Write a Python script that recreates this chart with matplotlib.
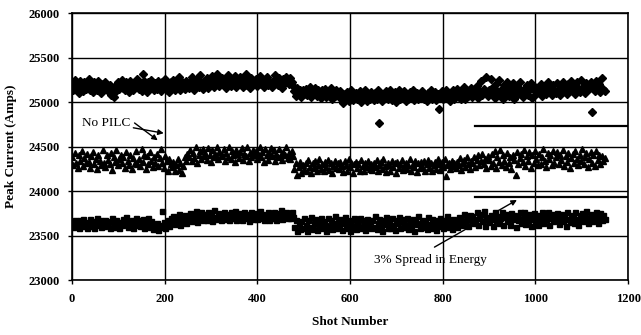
import matplotlib
matplotlib.use("Agg")
import matplotlib.pyplot as plt

shots = list(range(0, 1150, 3))

no_pilc_upper = [
    25210,25130,25250,25160,25200,25100,25240,25170,25120,25230,25150,25190,
    25260,25140,25180,25110,25220,25170,25130,25240,25160,25100,25200,25150,
    25230,25170,25120,25190,25080,25140,25060,25110,25190,25230,25150,25200,
    25250,25160,25130,25220,25180,25110,25240,25190,25140,25210,25170,25260,
    25150,25200,25120,25320,25240,25170,25110,25220,25160,25250,25190,25130,
    25210,25150,25240,25180,25120,25230,25170,25260,25140,25200,25110,25220,
    25180,25250,25140,25210,25170,25280,25130,25220,25190,25150,25240,25200,
    25160,25230,25280,25190,25140,25250,25210,25170,25300,25220,25150,25240,
    25190,25270,25160,25230,25200,25290,25170,25250,25320,25210,25180,25240,
    25270,25190,25250,25160,25300,25220,25180,25260,25210,25290,25170,25240,
    25200,25280,25230,25170,25250,25310,25190,25240,25160,25270,25220,25200,
    25260,25180,25230,25290,25200,25250,25170,25220,25280,25190,25240,25210,
    25170,25250,25300,25220,25190,25270,25230,25160,25260,25210,25280,25240,
    25200,25270,25230,25180,25120,25070,25160,25100,25140,25060,25130,25090,
    25150,25080,25120,25170,25060,25130,25100,25160,25070,25140,25110,25050,
    25130,25080,25150,25060,25120,25090,25160,25040,25110,25070,25140,25100,
    25060,25120,25030,24990,25090,25040,25110,25010,25070,25130,25020,25080,
    25100,25030,25070,25120,25000,25080,25050,25140,25010,25090,25040,25110,
    25060,25020,25100,25040,25130,24770,25070,25010,25090,25050,25120,25030,
    25080,25140,25020,25060,25110,25000,25070,25130,25040,25090,25050,25120,
    25010,25080,25040,25110,25060,25130,25020,25070,25100,25030,25090,25050,
    25120,25040,25080,25010,25100,25060,25140,25030,25070,25110,25020,25090,
    24920,25060,25120,25030,25080,25140,25050,25100,25010,25070,25130,25040,
    25090,25150,25060,25110,25030,25080,25170,25040,25120,25070,25100,25160,
    25060,25130,25090,25180,25050,25120,25240,25080,25150,25100,25280,25070,
    25140,25260,25090,25170,25050,25200,25120,25250,25080,25150,25030,25190,
    25110,25230,25070,25160,25100,25210,25040,25140,25180,25090,25220,25120,
    25060,25150,25100,25190,25080,25140,25210,25050,25130,25170,25090,25160,
    25110,25200,25070,25150,25180,25090,25220,25130,25160,25080,25190,25140,
    25100,25210,25150,25080,25180,25230,25120,25160,25090,25200,25140,25240,
    25130,25190,25090,25220,25160,25110,25250,25140,25180,25100,25210,25170,
    25150,25220,24890,25180,25120,25240,25160,25200,25110,25270,25150,25120,
]

no_pilc_lower = [
    24380,24290,24430,24320,24260,24400,24340,24450,24280,24370,24310,24420,
    24330,24260,24390,24440,24300,24360,24250,24410,24340,24290,24460,24320,
    24270,24400,24350,24300,24430,24240,24380,24330,24460,24290,24360,24410,
    24310,24380,24260,24440,24340,24290,24400,24250,24370,24320,24450,24300,
    24360,24280,24470,24330,24410,24250,24390,24300,24440,24340,24270,24380,
    24320,24420,24280,24370,24470,24310,24260,24390,24340,24230,24360,24300,
    24270,24330,24220,24290,24360,24240,24310,24200,24280,24380,24340,24420,
    24380,24460,24340,24430,24370,24490,24320,24410,24450,24360,24470,24390,
    24430,24350,24480,24400,24330,24460,24380,24420,24500,24360,24440,24390,
    24410,24470,24340,24430,24380,24490,24360,24450,24400,24330,24460,24420,
    24370,24440,24480,24350,24420,24390,24500,24340,24430,24380,24460,24410,
    24450,24360,24420,24490,24380,24440,24330,24470,24400,24350,24430,24480,
    24390,24460,24340,24420,24380,24470,24410,24350,24440,24400,24490,24370,
    24430,24360,24450,24390,24250,24310,24180,24270,24330,24200,24290,24240,
    24310,24230,24350,24270,24200,24320,24260,24340,24220,24290,24360,24250,
    24300,24220,24330,24270,24350,24240,24310,24200,24280,24340,24260,24320,
    24250,24330,24280,24210,24340,24290,24230,24360,24270,24310,24200,24300,
    24330,24260,24300,24230,24350,24280,24220,24320,24270,24340,24250,24300,
    24240,24310,24270,24350,24220,24290,24330,24250,24360,24280,24210,24320,
    24290,24230,24340,24270,24310,24200,24330,24260,24300,24350,24240,24280,
    24320,24250,24290,24360,24230,24300,24270,24340,24210,24310,24260,24330,
    24270,24340,24220,24300,24350,24260,24310,24230,24290,24330,24250,24360,
    24300,24240,24330,24270,24360,24170,24290,24320,24250,24340,24280,24310,
    24260,24330,24290,24370,24240,24310,24350,24270,24380,24300,24250,24340,
    24310,24380,24270,24350,24400,24290,24340,24420,24300,24360,24260,24390,
    24350,24280,24420,24310,24450,24260,24380,24330,24460,24290,24400,24340,
    24270,24430,24320,24380,24250,24410,24350,24180,24440,24300,24370,24420,
    24330,24460,24280,24390,24340,24440,24260,24400,24310,24450,24360,24290,
    24420,24300,24380,24470,24340,24270,24430,24360,24400,24290,24450,24320,
    24380,24440,24300,24410,24350,24460,24280,24390,24330,24430,24260,24370,
    24420,24310,24450,24360,24290,24400,24340,24470,24300,24380,24430,24270,
    24360,24440,24320,24400,24280,24450,24350,24410,24300,24390,24340,24370,
]

spread_energy = [
    23660,23600,23680,23620,23650,23590,23670,23630,23690,23610,23650,23580,
    23640,23690,23610,23660,23580,23630,23700,23620,23670,23600,23650,23610,
    23680,23620,23650,23590,23660,23700,23630,23600,23670,23640,23580,23650,
    23620,23690,23640,23710,23600,23660,23630,23680,23590,23650,23700,23620,
    23670,23610,23640,23690,23580,23650,23620,23700,23600,23660,23570,23630,
    23590,23640,23560,23620,23600,23780,23650,23580,23630,23680,23610,23700,
    23650,23720,23630,23690,23660,23740,23620,23700,23670,23730,23640,23710,
    23680,23750,23660,23720,23690,23780,23650,23730,23700,23760,23670,23720,
    23740,23680,23770,23700,23730,23660,23790,23710,23690,23750,23720,23680,
    23730,23770,23690,23740,23710,23680,23760,23720,23700,23780,23670,23740,
    23710,23750,23680,23730,23770,23700,23740,23660,23720,23760,23690,23730,
    23750,23690,23720,23780,23700,23740,23670,23730,23710,23760,23680,23720,
    23700,23760,23730,23680,23750,23710,23790,23690,23740,23720,23770,23700,
    23740,23700,23760,23710,23600,23680,23550,23640,23570,23660,23590,23700,
    23620,23550,23680,23600,23710,23570,23640,23690,23560,23650,23610,23700,
    23580,23660,23620,23550,23700,23610,23670,23570,23640,23720,23590,23650,
    23600,23690,23560,23640,23710,23580,23660,23620,23550,23680,23610,23700,
    23570,23650,23610,23700,23580,23670,23630,23560,23690,23620,23660,23590,
    23680,23600,23720,23570,23640,23690,23610,23550,23670,23630,23710,23580,
    23650,23590,23700,23620,23560,23680,23640,23710,23580,23660,23600,23690,
    23620,23700,23570,23650,23610,23690,23550,23660,23630,23720,23590,23640,
    23680,23600,23660,23570,23710,23630,23590,23690,23620,23670,23560,23650,
    23610,23700,23640,23580,23680,23620,23720,23600,23660,23570,23690,23630,
    23660,23600,23710,23640,23680,23620,23740,23650,23700,23610,23730,23670,
    23720,23640,23690,23760,23620,23700,23740,23660,23780,23610,23710,23680,
    23650,23730,23690,23610,23760,23680,23720,23640,23700,23770,23620,23710,
    23740,23660,23700,23620,23750,23690,23730,23600,23710,23680,23760,23640,
    23700,23770,23630,23720,23680,23740,23610,23690,23750,23660,23710,23620,
    23730,23680,23760,23640,23710,23690,23770,23620,23700,23740,23660,23720,
    23680,23750,23630,23700,23740,23660,23720,23610,23770,23690,23650,23730,
    23710,23640,23760,23690,23620,23730,23680,23750,23660,23710,23780,23640,
    23700,23740,23660,23720,23680,23760,23640,23710,23750,23670,23730,23690,
]

ref_line_upper = 24730
ref_line_lower = 23930
ref_line_x = [870, 1200]

x_ticks = [0, 200, 400, 600, 800, 1000, 1200]
y_ticks = [23000, 23500, 24000, 24500, 25000, 25500, 26000]

plt.rcParams['font.family'] = ['Liberation Serif', 'DejaVu Serif']

fig = plt.figure(figsize=(6.41, 3.35), dpi=100)
ax = fig.add_axes([0.1123, 0.164, 0.8677, 0.797])

ax.plot(shots, no_pilc_upper, linestyle='none', marker='D', markersize=3.7,
        color='black', zorder=3)
ax.plot(shots, no_pilc_lower, linestyle='none', marker='^', markersize=4.2,
        color='black', zorder=3)
ax.plot(shots, spread_energy, linestyle='none', marker='s', markersize=3.6,
        color='black', zorder=3)

ax.plot(ref_line_x, [ref_line_upper, ref_line_upper], color='black', lw=1.6, zorder=2)
ax.plot(ref_line_x, [ref_line_lower, ref_line_lower], color='black', lw=1.6, zorder=2)

ax.set_xlim(0, 1200)
ax.set_ylim(23000, 26000)
ax.set_xticks(x_ticks)
ax.set_yticks(y_ticks)
ax.tick_params(axis='both', direction='out', length=3, width=1, labelsize=9, pad=6)
for lab in ax.get_xticklabels() + ax.get_yticklabels():
    lab.set_fontweight('bold')
ax.grid(True, color='black', lw=1.0)
ax.set_axisbelow(True)
for s in ax.spines.values():
    s.set_linewidth(1.2)
    s.set_color('black')

ax.set_xlabel('Shot Number', fontsize=9.5, fontweight='bold', labelpad=8)
ax.set_ylabel('Peak Current (Amps)', fontsize=9.5, fontweight='bold', labelpad=8)

ax.annotate('No PILC', xy=(198, 24650), xytext=(22, 24765), fontsize=9.5,
            va='center', ha='left',
            arrowprops=dict(arrowstyle='-|>', color='black', lw=1, mutation_scale=8,
                            shrinkA=0, shrinkB=0))
ax.annotate('', xy=(185, 24570), xytext=(135, 24765),
            arrowprops=dict(arrowstyle='-|>', color='black', lw=1, mutation_scale=8,
                            shrinkA=0, shrinkB=0))
ax.annotate('3% Spread in Energy', xy=(960, 23900), xytext=(773, 23225), fontsize=9.5,
            va='center', ha='center',
            arrowprops=dict(arrowstyle='-|>', color='black', lw=1, mutation_scale=8,
                            shrinkA=6, shrinkB=0, relpos=(0.43, 1.0)))

fig.savefig('out.png', dpi=100)
